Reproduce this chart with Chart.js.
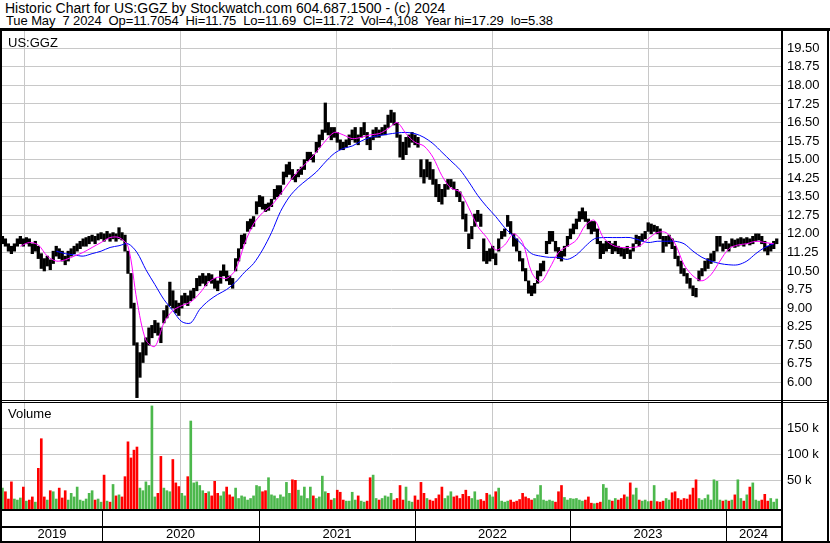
<!DOCTYPE html>
<html>
<head>
<meta charset="utf-8">
<title>Historic Chart US:GGZ</title>
<script src="https://cdn.jsdelivr.net/npm/chart.js@4.4.1/dist/chart.umd.min.js"></script>
<style>
  body { margin: 0; background: #fff; }
  #wrap { position: relative; width: 830px; height: 543px; overflow: hidden; font-family: Arial, "Liberation Sans", sans-serif; color: #000; }
  .txt { position: absolute; font-size: 13px; line-height: 13px; white-space: pre; }
  .bk { position: absolute; background: #000; }
  canvas { position: absolute; }
</style>
</head>
<body>
<div id="wrap">
  <canvas id="priceChart" width="828" height="369" style="left:2px;top:31px"></canvas>
  <canvas id="volChart" width="828" height="138" style="left:2px;top:403px"></canvas>

  <div class="txt" style="left:5px;top:1px;font-size:14px;line-height:14px">Historic Chart for US:GGZ by Stockwatch.com 604.687.1500 - (c) 2024</div>
  <div class="txt" style="left:6px;top:14px;letter-spacing:-0.1px">Tue May  7 2024  Op=11.7054  Hi=11.75  Lo=11.69  Cl=11.72  Vol=4,108  Year hi=17.29  lo=5.38</div>
  <div class="txt" style="left:8px;top:36px">US:GGZ</div>
  <div class="txt" style="left:8px;top:407px">Volume</div>

  <!-- frame -->
  <div class="bk" style="left:0;top:28px;width:830px;height:3px"></div>
  <div class="bk" style="left:0;top:28px;width:2px;height:515px"></div>
  <div class="bk" style="left:827px;top:28px;width:2px;height:515px"></div>
  <div class="bk" style="left:781px;top:28px;width:2px;height:515px"></div>
  <div class="bk" style="left:0;top:541px;width:830px;height:2px"></div>
  <div class="bk" style="left:0;top:400px;width:829px;height:1px"></div>
  <div class="bk" style="left:0;top:402px;width:829px;height:1px"></div>
  <div class="bk" style="left:0;top:509px;width:783px;height:2px"></div>
  <div class="bk" style="left:0;top:526px;width:783px;height:2px"></div>
</div>
<script>
// weekly bars starting on this date
const startDate = '2019-05-12';
const yearStarts = ['2020-01-01', '2021-01-01', '2022-01-01', '2023-01-01', '2024-01-01'];
const yearLabels = ['2019', '2020', '2021', '2022', '2023', '2024'];

const priceTicks = [6.00, 6.75, 7.50, 8.25, 9.00, 9.75, 10.50, 11.25, 12.00, 12.75,
    13.50, 14.25, 15.00, 15.75, 16.50, 17.25, 18.00, 18.75, 19.50];
const volumeTicks = [50000, 100000, 150000];
const volumeTickLabels = ['50 k', '100 k', '150 k'];

const weekHigh = [
    11.9, 11.8, 11.6, 11.5, 11.6, 11.8, 11.9, 11.8, 11.85, 11.8,
    11.6, 11.7, 11.5, 11.2, 11.0, 11.1, 10.95, 11.3, 11.5, 11.4,
    11.3, 11.1, 11.3, 11.4, 11.5, 11.6, 11.7, 11.8, 11.85, 11.9,
    11.95, 11.9, 12.0, 12.05, 12.0, 12.1, 12.0, 12.05, 12.0, 12.25,
    12.05, 11.95, 11.3, 10.4, 9.2, 7.6, 7.2, 7.6, 7.8, 8.2,
    8.3, 8.5, 8.4, 8.2, 8.9, 9.1, 10.05, 9.7, 9.3, 9.2,
    9.5, 9.6, 9.5, 9.7, 9.8, 10.2, 10.3, 10.4, 10.3, 10.4,
    10.35, 10.2, 10.1, 10.5, 10.75, 10.5, 10.3, 10.2, 11.0, 11.4,
    11.95, 12.0, 12.5, 12.6, 12.7, 13.3, 13.55, 13.5, 13.2, 13.25,
    13.4, 13.8, 13.95, 13.95, 14.5, 14.8, 14.9, 14.6, 14.4, 14.6,
    14.7, 15.0, 15.3, 15.3, 15.2, 15.7, 16.0, 16.2, 17.29, 16.5,
    16.3, 16.3, 16.1, 15.8, 15.7, 15.8, 16.0, 16.2, 16.3, 16.0,
    16.3, 16.5, 16.1, 15.9, 16.2, 16.3, 16.2, 16.3, 16.4, 16.8,
    17.0, 16.9, 16.5, 16.0, 15.7, 15.9, 16.0, 16.1, 16.0, 15.9,
    15.0, 14.6, 15.0, 14.9, 14.6, 14.2, 14.0, 13.8, 14.0, 14.2,
    14.2, 14.1, 13.8, 13.7, 13.3, 12.8, 12.0, 12.3, 12.8, 12.95,
    12.8, 11.8, 11.3, 11.4, 11.5, 11.2, 11.8, 12.1, 12.2, 12.75,
    12.5, 12.0, 11.8, 11.3, 11.0, 10.6, 10.1, 9.9, 10.0, 10.5,
    10.8, 10.9, 11.7, 12.1, 12.1, 11.7, 11.45, 11.3, 11.5, 11.9,
    12.2, 12.4, 12.6, 12.9, 13.05, 12.9, 12.6, 12.5, 12.5, 12.2,
    11.7, 11.6, 11.7, 11.7, 11.6, 11.7, 11.5, 11.45, 11.4, 11.5,
    11.35, 11.6, 11.95, 11.9, 12.0, 12.1, 12.45, 12.4, 12.35, 12.3,
    12.2, 11.9, 11.9, 11.95, 11.8, 11.5, 11.1, 10.9, 10.6, 10.4,
    10.2, 9.9, 9.8, 10.5, 10.6, 10.9, 11.0, 11.2, 11.3, 11.9,
    11.9, 11.6, 11.7, 11.6, 11.8, 11.75, 11.8, 11.85, 11.8, 11.85,
    11.8, 11.9, 12.0, 12.0, 11.9, 11.7, 11.5, 11.6, 11.7, 11.8
];

const weekLow = [
    11.6, 11.5, 11.3, 11.2, 11.3, 11.5, 11.6, 11.5, 11.6, 11.5,
    11.2, 11.3, 11.0, 10.6, 10.5, 10.7, 10.55, 10.8, 11.1, 11.0,
    10.9, 10.75, 10.9, 11.1, 11.2, 11.3, 11.4, 11.5, 11.5, 11.6,
    11.7, 11.6, 11.75, 11.8, 11.7, 11.8, 11.7, 11.8, 11.7, 11.8,
    11.75, 11.3, 10.4, 9.0, 7.5, 5.38, 6.2, 6.8, 7.1, 7.5,
    7.8, 8.0, 7.9, 7.6, 8.4, 8.6, 9.1, 9.0, 8.8, 8.7,
    9.0, 9.2, 9.1, 9.3, 9.4, 9.7, 9.9, 10.0, 9.9, 10.1,
    10.0, 9.8, 9.7, 10.0, 10.3, 10.1, 9.95, 9.8, 10.5, 10.9,
    11.4, 11.6, 12.1, 12.2, 12.3, 12.8, 13.1, 13.0, 12.9, 12.95,
    13.1, 13.4, 13.5, 13.6, 14.0, 14.3, 14.4, 14.2, 14.1, 14.3,
    14.4, 14.6, 14.95, 15.0, 14.9, 15.3, 15.5, 15.8, 16.1, 16.0,
    15.8, 15.9, 15.7, 15.4, 15.4, 15.5, 15.6, 15.8, 15.7, 15.6,
    15.9, 16.0, 15.6, 15.4, 15.8, 15.9, 15.9, 16.0, 16.0, 16.3,
    16.5, 16.4, 15.9, 15.1, 15.0, 15.2, 15.5, 15.7, 15.6, 15.5,
    14.3, 14.05, 14.3, 14.2, 14.0, 13.5, 13.3, 13.2, 13.5, 13.8,
    13.9, 13.8, 13.5, 13.3, 12.6, 12.1, 11.4, 11.8, 12.3, 12.5,
    12.3, 10.9, 10.8, 10.9, 11.0, 10.75, 11.3, 11.8, 11.9, 12.3,
    12.0, 11.5, 11.3, 10.9, 10.5, 10.1, 9.6, 9.5, 9.6, 10.0,
    10.3, 10.5, 11.2, 11.6, 11.7, 11.3, 11.0, 10.9, 11.1, 11.5,
    11.8, 12.0, 12.2, 12.5, 12.6, 12.5, 12.2, 12.0, 12.1, 11.6,
    11.0, 11.2, 11.3, 11.4, 11.2, 11.3, 11.2, 11.1, 11.0, 11.2,
    11.0, 11.3, 11.6, 11.5, 11.7, 11.8, 12.1, 12.0, 12.1, 12.0,
    11.8, 11.25, 11.5, 11.6, 11.4, 11.0, 10.7, 10.4, 10.3, 10.0,
    9.8, 9.5, 9.45, 10.1, 10.3, 10.5, 10.6, 10.8, 10.9, 11.3,
    11.5, 11.3, 11.4, 11.3, 11.5, 11.45, 11.5, 11.55, 11.5, 11.6,
    11.55, 11.6, 11.7, 11.75, 11.6, 11.3, 11.15, 11.3, 11.4, 11.6
];

// volume, thousands of shares
const weekVolume = [
    35, 28, 14, 47, 14, 12, 16, 37, 10, 12,
    18, 8, 73, 130, 18, 12, 30, 28, 14, 35,
    16, 30, 12, 25, 18, 37, 12, 10, 14, 25,
    30, 12, 14, 8, 60, 10, 8, 42, 20, 22,
    18, 57, 124, 93, 108, 114, 35, 30, 47, 40,
    193, 18, 25, 96, 35, 30, 28, 90, 45, 38,
    25, 20, 57, 164, 45, 47, 40, 30, 25, 28,
    20, 48, 25, 20, 28, 37, 22, 18, 35, 15,
    20, 18, 12, 15, 20, 40, 38, 28, 30, 55,
    22, 20, 15, 22, 18, 46, 25, 51, 50, 31,
    20, 37, 15, 37, 20, 15, 18, 58, 28, 25,
    12, 15, 31, 27, 12, 10, 10, 27, 12, 20,
    10, 8, 10, 55, 60, 15, 12, 15, 20, 18,
    25, 12, 15, 40, 12, 37, 10, 8, 20, 12,
    46, 25, 15, 12, 10, 15, 22, 37, 15, 20,
    28, 18, 20, 15, 23, 31, 19, 15, 28, 12,
    13, 10, 25, 22, 18, 28, 35, 10, 8, 10,
    12, 8, 10, 13, 25, 18, 15, 12, 15, 22,
    40, 12, 10, 12, 10, 8, 28, 40, 17, 12,
    15, 14, 15, 12, 10, 12, 18, 6, 5, 6,
    8, 42, 35, 12, 10, 15, 12, 15, 22, 18,
    45, 22, 35, 12, 10, 12, 9, 10, 40, 9,
    8, 10, 15, 12, 26, 28, 15, 12, 15, 14,
    22, 35, 51, 15, 12, 15, 22, 12, 51, 48,
    12, 10, 12, 10, 12, 22, 51, 15, 10, 22,
    37, 45, 12, 10, 12, 23, 10, 15, 8, 14
];

// moving averages, one value every third week
const maShort = [
    null, null, 11.5, 11.65, 11.55, 11.1, 10.9, 10.95, 11.1, 11.25,
    11.45, 11.65, 11.85, 11.85, 11.5, 9.3, 7.7, 7.45, 8.4, 8.9,
    9.1, 9.25, 9.6, 10.05, 10.25, 10.2, 10.55, 11.6, 12.4, 12.85,
    13.15, 13.6, 14.1, 14.55, 14.9, 15.3, 15.75, 16.1, 16.0, 15.85,
    15.9, 16.0, 16.05, 16.25, 16.5, 16.05, 15.7, 15.55, 15.1, 14.35,
    13.85, 13.7, 13.05, 12.3, 11.85, 11.35, 11.55, 12.0, 11.65, 10.45,
    10.05, 10.6, 11.25, 11.5, 11.75, 12.35, 12.55, 11.85, 11.55, 11.45,
    11.45, 11.5, 11.8, 12.05, 12.05, 11.6, 10.75, 10.3, 10.1, 10.35,
    10.9, 11.4, 11.55, 11.6, 11.7, 11.65, 11.6
];
const maLong = [
    null, null, null, null, null, null, 11.3, 11.2, 11.15, 11.1,
    11.2, 11.3, 11.45, 11.52, 11.6, 11.25, 10.55, 9.95, 9.35, 8.9,
    8.45, 8.4, 8.95, 9.3, 9.55, 9.75, 10.05, 10.45, 10.8, 11.35,
    12.05, 12.9, 13.5, 13.9, 14.2, 14.5, 14.9, 15.25, 15.45, 15.55,
    15.75, 15.9, 15.97, 16.03, 16.08, 16.1, 16.05, 15.9, 15.65, 15.3,
    14.95, 14.6, 14.1, 13.55, 13.1, 12.7, 12.25, 11.9, 11.55, 11.2,
    11.1, 11.05, 11.05, 10.97, 11.15, 11.5, 11.8, 11.85, 11.85, 11.85,
    11.85, 11.75, 11.65, 11.7, 11.7, 11.7, 11.6, 11.3, 11.05, 10.9,
    10.8, 10.75, 10.75, 10.9, 11.2, 11.45, 11.6
];

var DAY_MIN = -1, DAY_MAX = 1823;
var gridColor = '#c8c8c8';
var red = '#ff0000', green = '#4cb84c';

function dayOf(s) {
    return (Date.parse(s) - Date.parse(startDate)) / 86400000;
}
var weekDays = weekHigh.map(function (v, i) { return i * 7; });

Chart.defaults.font.family = 'Arial, "Liberation Sans", sans-serif';
Chart.defaults.font.size = 13;
Chart.defaults.color = '#000';
Chart.defaults.animation = false;
Chart.defaults.events = [];
Chart.defaults.plugins.legend.display = false;
Chart.defaults.plugins.tooltip.enabled = false;

function timeAxis(h) {
    return {
        type: 'linear', min: DAY_MIN, max: DAY_MAX, offset: false,
        grid: { color: gridColor, drawTicks: false },
        border: { display: false },
        ticks: { display: false },
        afterBuildTicks: function (s) { s.ticks = yearStarts.map(function (d) { return { value: dayOf(d) }; }); },
        afterFit: function (s) { s.height = h; s.paddingLeft = 0; s.paddingRight = 0; }
    };
}

var priceCtx = document.getElementById('priceChart').getContext('2d');
var priceChart = new Chart(priceCtx, {
    type: 'bar',
    data: {
        datasets: [{
            label: 'MA short',
            type: 'line',
            data: maShort.map(function (v, k) { return { x: weekDays[k * 3], y: v }; }),
            borderColor: '#ff00ff',
            borderWidth: 1,
            pointRadius: 0,
            tension: 0.3,
            order: 1
        }, {
            label: 'MA long',
            type: 'line',
            data: maLong.map(function (v, k) { return { x: weekDays[k * 3], y: v }; }),
            borderColor: '#0000ff',
            borderWidth: 1,
            pointRadius: 0,
            tension: 0.3,
            order: 2
        }, {
            label: 'US:GGZ',
            data: weekDays.map(function (d, i) { return { x: d, y: [weekLow[i], weekHigh[i]] }; }),
            backgroundColor: '#000',
            barThickness: 2.6,
            order: 3
        }]
    },
    options: {
        responsive: false,
        layout: { padding: 0 },
        scales: {
            x: timeAxis(0),
            y: {
                type: 'linear', position: 'right', min: 5.2846, max: 20.199,
                grid: { color: gridColor, drawTicks: false },
                border: { display: false },
                ticks: { padding: 6, callback: function (v) { return v.toFixed(2); } },
                afterBuildTicks: function (s) { s.ticks = priceTicks.map(function (v) { return { value: v }; }); },
                afterFit: function (s) { s.width = 49; s.paddingTop = 0; s.paddingBottom = 0; }
            }
        }
    }
});

var volColors = weekVolume.map(function (v, i) {
    if (i === 0) return green;
    return (weekHigh[i] + weekLow[i]) >= (weekHigh[i - 1] + weekLow[i - 1]) ? green : red;
});

var yearAxis = {
    id: 'yearAxis',
    afterDraw: function (chart) {
        var ctx = chart.ctx, area = chart.chartArea, xs = chart.scales.x;
        var edges = [area.left];
        yearStarts.forEach(function (d) { edges.push(Math.round(xs.getPixelForValue(dayOf(d)))); });
        edges.push(area.right);
        ctx.save();
        ctx.fillStyle = '#000';
        for (var i = 1; i < edges.length - 1; i++) {
            ctx.fillRect(edges[i], area.bottom, 1, chart.height - area.bottom);
        }
        ctx.font = '13px Arial, "Liberation Sans", sans-serif';
        ctx.textAlign = 'center';
        ctx.textBaseline = 'middle';
        yearLabels.forEach(function (t, i) {
            ctx.fillText(t, (edges[i] + edges[i + 1]) / 2, 131);
        });
        ctx.restore();
    }
};

var volCtx = document.getElementById('volChart').getContext('2d');
var volChart = new Chart(volCtx, {
    type: 'bar',
    data: {
        datasets: [{
            label: 'Volume',
            data: weekDays.map(function (d, i) { return { x: d, y: weekVolume[i] * 1000 }; }),
            backgroundColor: volColors,
            barThickness: 2,
            base: -5192
        }]
    },
    options: {
        responsive: false,
        layout: { padding: 0 },
        scales: {
            x: timeAxis(32),
            y: {
                type: 'linear', position: 'right', min: -5192, max: 198654,
                grid: { color: gridColor, drawTicks: false },
                border: { display: false },
                ticks: { padding: 6, callback: function (v, i) { return volumeTickLabels[i]; } },
                afterBuildTicks: function (s) { s.ticks = volumeTicks.map(function (v) { return { value: v }; }); },
                afterFit: function (s) { s.width = 49; s.paddingTop = 0; s.paddingBottom = 0; }
            }
        }
    },
    plugins: [yearAxis]
});
</script>
</body>
</html>
